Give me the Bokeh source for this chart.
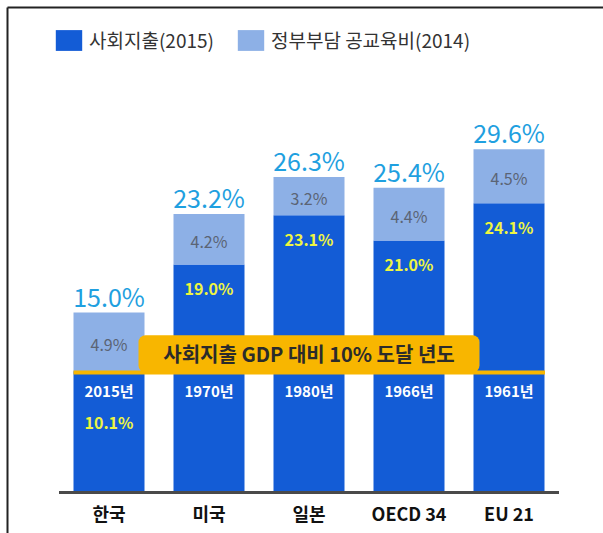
from bokeh.plotting import figure
from bokeh.models import ColumnDataSource, Range1d, Legend, LegendItem
from bokeh.core.properties import value
from bokeh.embed import file_html
from bokeh.resources import INLINE

categories = ["한국", "미국", "일본", "OECD 34", "EU 21"]
social = [10.1, 19.0, 23.1, 21.0, 24.1]
edu = [4.9, 4.2, 3.2, 4.4, 4.5]
total_labels = ["15.0%", "23.2%", "26.3%", "25.4%", "29.6%"]
years = ["2015년", "1970년", "1980년", "1966년", "1961년"]
band_text = "사회지출 GDP 대비 10% 도달 년도"
legend_labels = ["사회지출(2015)", "정부부담 공교육비(2014)"]
threshold = 10

FONT_NAME = "Noto Sans CJK KR"
FONT = value(FONT_NAME)
DARK = "#135cd6"
LIGHT = "#8db0e6"
SKY = "#1fa0e0"
YELLOW = "#eef542"
ORANGE = "#f8b600"

n = len(categories)
xs = list(range(n))
tops = [s + e for s, e in zip(social, edu)]
band_top = 13.1
src = ColumnDataSource(dict(
    x=xs, cat=categories, social=social, tops=tops,
    social_lbl=[f"{v:.1f}%" for v in social],
    edu_lbl=[f"{v:.1f}%" for v in edu],
    edu_y=[s + e / 2 - 0.15 for s, e in zip(social, edu)],
    social_y=[(s - 2.0) if s > band_top + 2 else 5.9 for s in social],
    total_lbl=total_labels, total_y=[t + 1.4 for t in tops],
    year=years,
))

X0, X1 = -1.085, 4.945
Y0, Y1 = -3.417, 41.0
p = figure(width=603, height=533, output_backend="svg", toolbar_location=None,
           x_axis_type=None, y_axis_type=None, min_border=0,
           x_range=Range1d(X0, X1), y_range=Range1d(Y0, Y1))
p.grid.visible = False
p.outline_line_color = None
p.background_fill_color = "white"

# frame lines (top and left)
fx = X0 + 0.07
fy = Y1 - 7 / 12
p.segment(x0=[fx, fx], y0=[fy, fy], x1=[fx, X1], y1=[Y0, fy],
          line_color="#222222", line_width=2)

r_dark = p.vbar(x="x", width=0.71, bottom=0, top="social", source=src,
                fill_color=DARK, line_color=None)
r_light = p.vbar(x="x", width=0.71, bottom="social", top="tops", source=src,
                 fill_color=LIGHT, line_color=None)

# baseline
p.segment(x0=[-0.5], x1=[n - 0.5], y0=[0], y1=[0], line_color="#4a4a4a", line_width=3)

# 10% line and band
p.segment(x0=[-0.355], x1=[n - 1 + 0.36], y0=[threshold], y1=[threshold],
          line_color=ORANGE, line_width=4)
p.quad(left=[0.295], right=[3.705], bottom=[threshold], top=[band_top],
       fill_color=ORANGE, line_color=None, border_radius=7)
p.text(x=[2.0], y=[(threshold + band_top) / 2], text=[band_text], text_font=FONT,
       text_font_size="20px", text_font_style="bold", text_color="#2b2b2b",
       text_align="center", text_baseline="middle")

# labels
p.text(x="x", y="edu_y", text="edu_lbl", source=src, text_font=FONT,
       text_font_size="16px", text_color="#5b6475", text_align="center", text_baseline="middle")
p.text(x="x", y="social_y", text="social_lbl", source=src, text_font=FONT,
       text_font_size="16px", text_font_style="bold", text_color=YELLOW,
       text_align="center", text_baseline="middle")
p.text(x="x", y=8.5, text="year", source=src, text_font=FONT,
       text_font_size="15px", text_font_style="bold", text_color="white",
       text_align="center", text_baseline="middle")
p.text(x="x", y="total_y", text="total_lbl", source=src, text_font=FONT,
       text_font_size="25px", text_color=SKY, text_align="center", text_baseline="middle")
p.text(x="x", y=-1.75, text="cat", source=src, text_font=FONT,
       text_font_size="18px", text_font_style="bold", text_color="#111111",
       text_align="center", text_baseline="middle")

legend = Legend(items=[LegendItem(label=legend_labels[0], renderers=[r_dark]),
                       LegendItem(label=legend_labels[1], renderers=[r_light])],
                location=(52, 480), orientation="horizontal",
                glyph_width=33, glyph_height=26, label_standoff=4, spacing=20,
                padding=0, margin=0, border_line_color=None, background_fill_alpha=0,
                label_text_font=FONT_NAME, label_text_font_size="19px", label_text_color="#333333")
p.add_layout(legend, "center")

open("out.html", "w").write(file_html(p, INLINE))
